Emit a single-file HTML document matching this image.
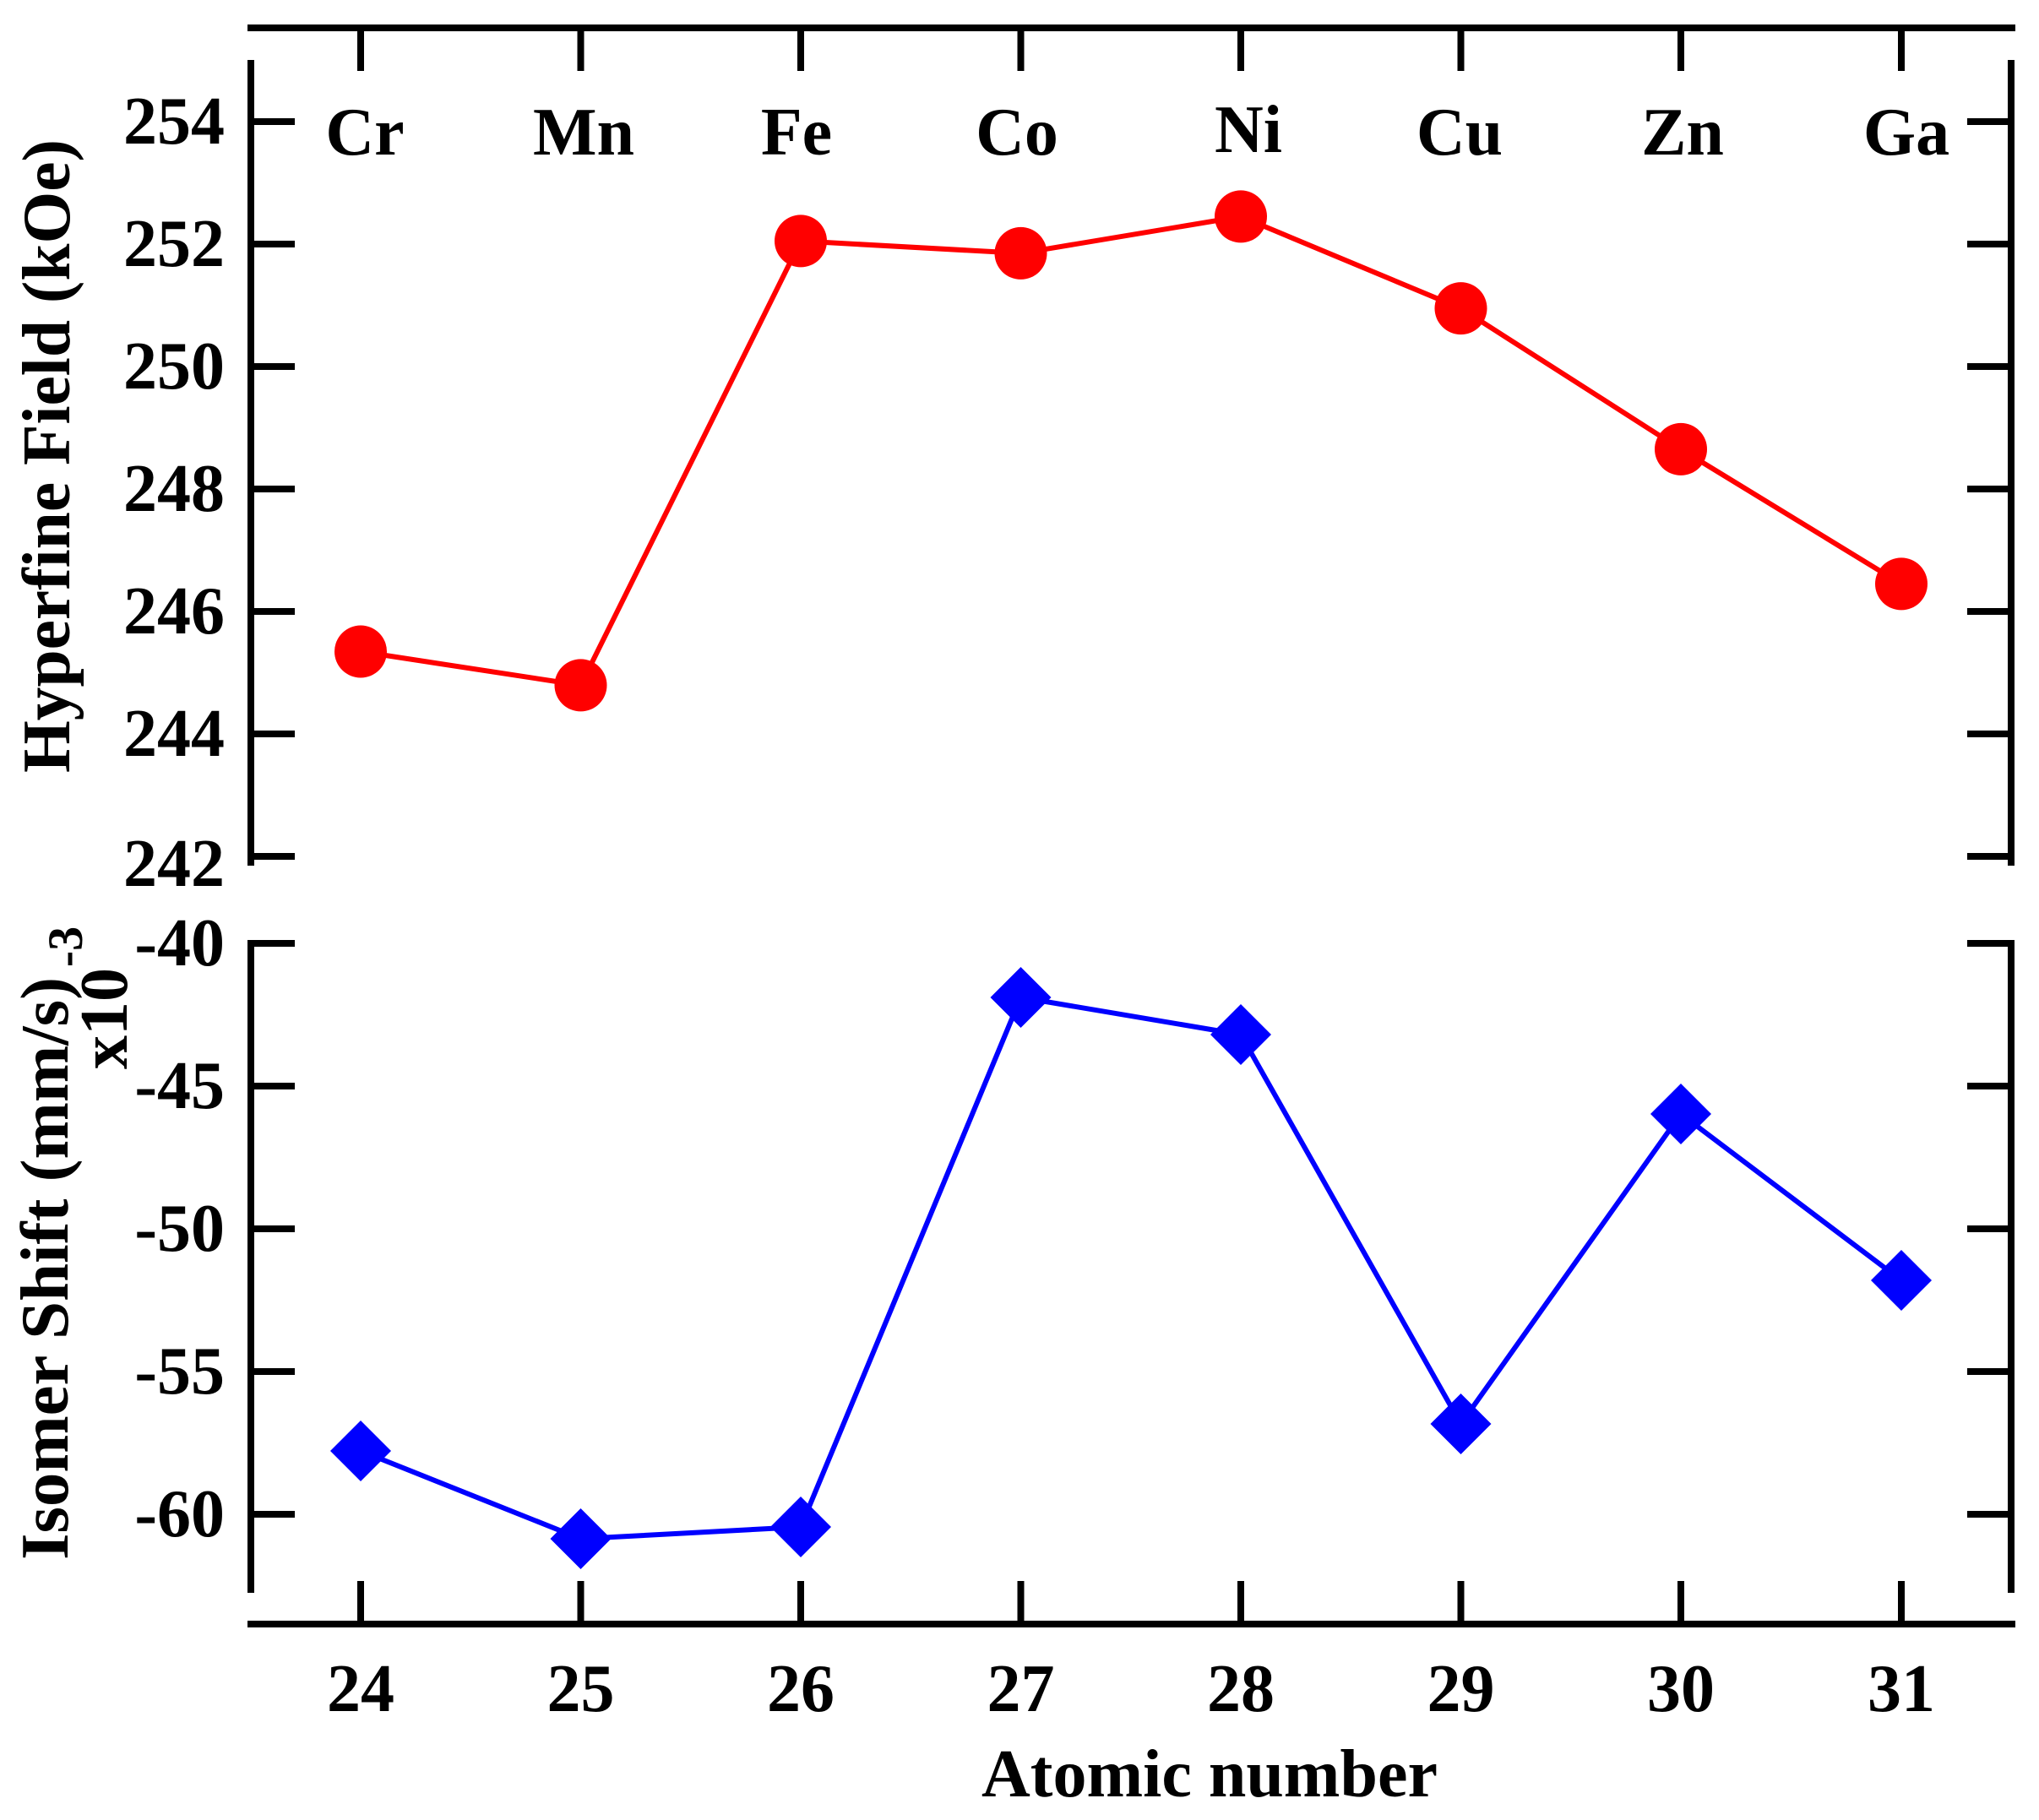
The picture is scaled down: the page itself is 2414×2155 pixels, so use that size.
<!DOCTYPE html>
<html><head><meta charset="utf-8"><style>html,body{margin:0;padding:0;background:#fff}svg{display:block}</style></head>
<body>
<svg width="2414" height="2155" viewBox="0 0 2414 2155" xmlns="http://www.w3.org/2000/svg" font-family="'Liberation Serif', serif" font-weight="bold">
<g stroke="#000" stroke-width="8" fill="none">
<line x1="293" y1="33" x2="2386" y2="33"/>
<line x1="293" y1="1923" x2="2386" y2="1923"/>
<line x1="297" y1="71" x2="297" y2="1025"/>
<line x1="2381" y1="71" x2="2381" y2="1025"/>
<line x1="297" y1="1113" x2="297" y2="1886"/>
<line x1="2381" y1="1113" x2="2381" y2="1886"/>
<path d="M427 37V84 M687.5 37V84 M948 37V84 M1208.5 37V84 M1469 37V84 M1729.5 37V84 M1990 37V84 M2251 37V84"/>
<path d="M427 1919V1872 M687.5 1919V1872 M948 1919V1872 M1208.5 1919V1872 M1469 1919V1872 M1729.5 1919V1872 M1990 1919V1872 M2251 1919V1872"/>
<path d="M301 144H349 M301 289H349 M301 434H349 M301 579H349 M301 724H349 M301 869H349 M301 1014H349"/>
<path d="M2377 144H2329 M2377 289H2329 M2377 434H2329 M2377 579H2329 M2377 724H2329 M2377 869H2329 M2377 1014H2329"/>
<path d="M301 1117H349 M301 1286H349 M301 1455H349 M301 1624H349 M301 1793H349"/>
<path d="M2377 1117H2329 M2377 1286H2329 M2377 1455H2329 M2377 1624H2329 M2377 1793H2329"/>
</g>
<g font-size="80" text-anchor="end">
<text x="266" y="170">254</text>
<text x="266" y="315">252</text>
<text x="266" y="460">250</text>
<text x="266" y="605">248</text>
<text x="266" y="750">246</text>
<text x="266" y="895">244</text>
<text x="266" y="1049">242</text>
<text x="266" y="1143">-40</text>
<text x="266" y="1312">-45</text>
<text x="266" y="1481">-50</text>
<text x="266" y="1650">-55</text>
<text x="266" y="1819">-60</text>
</g>
<g font-size="80" text-anchor="middle">
<text x="432" y="183">Cr</text>
<text x="691" y="183">Mn</text>
<text x="943" y="183">Fe</text>
<text x="1204" y="183">Co</text>
<text x="1478" y="180">Ni</text>
<text x="1728" y="183">Cu</text>
<text x="1992" y="183">Zn</text>
<text x="2257" y="183">Ga</text>
<text x="427" y="2026">24</text>
<text x="687.5" y="2026">25</text>
<text x="948" y="2026">26</text>
<text x="1208.5" y="2026">27</text>
<text x="1469" y="2026">28</text>
<text x="1729.5" y="2026">29</text>
<text x="1990" y="2026">30</text>
<text x="2251" y="2026">31</text>
<text x="1432" y="2127">Atomic number</text>
</g>
<text font-size="80" text-anchor="middle" transform="translate(82 540) rotate(-90)" textLength="750" lengthAdjust="spacingAndGlyphs">Hyperfine Field (kOe)</text>
<text font-size="80" text-anchor="middle" transform="translate(80 1502) rotate(-90)" textLength="690" lengthAdjust="spacingAndGlyphs">Isomer Shift (mm/s)</text>
<text font-size="80" text-anchor="middle" transform="translate(150 1206) rotate(-90)">x10</text>
<text font-size="58" text-anchor="middle" transform="translate(97 1121) rotate(-90)">-3</text>
<polyline fill="none" stroke="#f00" stroke-width="6" points="427,771.5 687.5,811.4 948,285.4 1208.5,299.9 1469,256.4 1729.5,365.1 1990,531.9 2251,691.4"/>
<g fill="#f00">
<circle cx="427" cy="771.5" r="31"/><circle cx="687.5" cy="811.4" r="31"/><circle cx="948" cy="285.4" r="31"/><circle cx="1208.5" cy="299.9" r="31"/><circle cx="1469" cy="256.4" r="31"/><circle cx="1729.5" cy="365.1" r="31"/><circle cx="1990" cy="531.9" r="31"/><circle cx="2251" cy="691.4" r="31"/>
</g>
<polyline fill="none" stroke="#00f" stroke-width="6" points="427,1718 687.5,1822 948,1808 1208.5,1181 1469,1225 1729.5,1686 1990,1319 2251,1516"/>
<g fill="#00f">
<path d="M427 1682l36 36-36 36-36-36z"/>
<path d="M687.5 1786l36 36-36 36-36-36z"/>
<path d="M948 1772l36 36-36 36-36-36z"/>
<path d="M1208.5 1145l36 36-36 36-36-36z"/>
<path d="M1469 1189l36 36-36 36-36-36z"/>
<path d="M1729.5 1650l36 36-36 36-36-36z"/>
<path d="M1990 1283l36 36-36 36-36-36z"/>
<path d="M2251 1480l36 36-36 36-36-36z"/>
</g>
</svg>
</body></html>
